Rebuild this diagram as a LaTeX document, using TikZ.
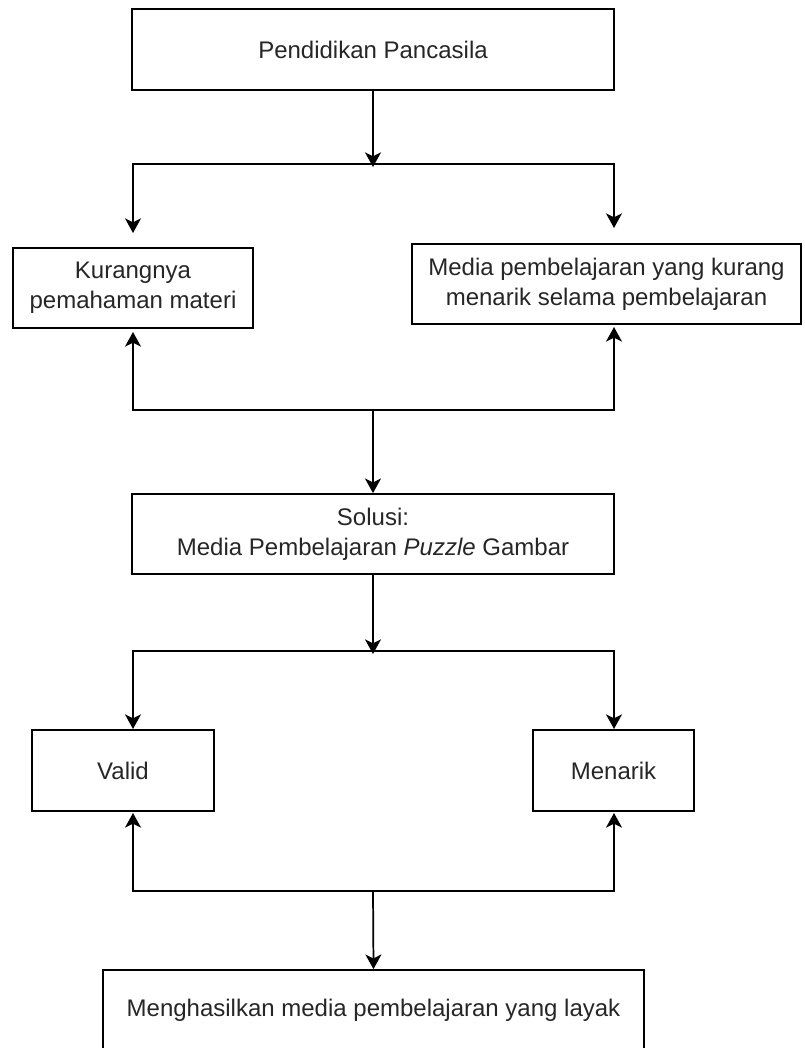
\documentclass[tikz,border=0pt]{standalone}
\usepackage{fontspec}
\setmainfont{Liberation Sans}
\usetikzlibrary{arrows.meta}
\begin{document}
\begin{tikzpicture}[x=0.75pt,y=-0.75pt,
  box/.style={draw=black, line width=1.3pt, fill=white, align=center, inner sep=0pt,
    font=\fontsize{18pt}{22.5pt}\selectfont, text=black!85},
  conn/.style={draw=black, line width=1.3pt, line join=miter},
  arr/.style={conn, -{Stealth[length=11pt,width=12pt,inset=3pt]}}]
\useasboundingbox (0,0) rectangle (804,1048);
\fill[white] (0,0) rectangle (804,1048);

% boxes
\node[box, minimum width=361.5pt, minimum height=60.75pt] (b1) at (373,49.5) {Pendidikan Pancasila};
\node[box, minimum width=180pt, minimum height=60pt] (b2) at (133,288) {Kurangnya\\pemahaman materi};
\node[box, minimum width=291.75pt, minimum height=60pt] (b3) at (606.5,284) {Media pembelajaran yang kurang\\menarik selama pembelajaran};
\node[box, minimum width=361.5pt, minimum height=60pt] (b4) at (373,534) {Solusi:\\Media Pembelajaran \textit{Puzzle} Gambar};
\node[box, minimum width=136.5pt, minimum height=60.75pt] (b5) at (123,770.5) {Valid};
\node[box, minimum width=120.75pt, minimum height=60.75pt] (b6) at (613.5,770.5) {Menarik};
\node[box, minimum width=405.75pt, minimum height=60pt] (b7) at (373.5,1010) {Menghasilkan media pembelajaran yang layak};

% junction coordinates
\coordinate (j1) at (373,164);
\coordinate (j1tip) at (373,167);
\coordinate (t2) at (133,233);
\coordinate (t3) at (614,228);
\coordinate (j2) at (373,410);
\coordinate (u2) at (133,332);
\coordinate (u3) at (614,327);
\coordinate (j3) at (373,651);
\coordinate (j3tip) at (373,654);
\coordinate (t5) at (133,729);
\coordinate (t6) at (614,729);
\coordinate (j4) at (373,891);
\coordinate (u5) at (133,813);
\coordinate (u6) at (614,813);

% connectors
\draw[arr] (b1.south) -- (j1tip);
\draw[arr] (j1) -| (t2);
\draw[arr] (j1) -| (t3);

\draw[arr] (j2) -| (u2);
\draw[arr] (j2) -| (u3);
\draw[arr] (j2) -- (b4.north);

\draw[arr] (b4.south) -- (j3tip);
\draw[arr] (j3) -| (t5);
\draw[arr] (j3) -| (t6);

\draw[arr] (j4) -| (u5);
\draw[arr] (j4) -| (u6);
\draw[arr] (j4) -- (b7.north);
\end{tikzpicture}
\end{document}
